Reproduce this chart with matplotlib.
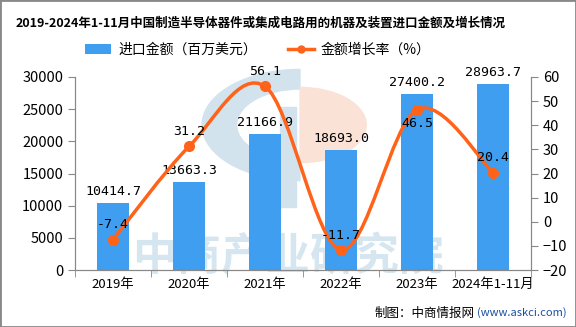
import numpy as np
import matplotlib.pyplot as plt
from matplotlib.path import Path
from matplotlib.patches import PathPatch, Wedge, Rectangle

plt.rcParams['font.family'] = ['Noto Sans CJK SC', 'DejaVu Sans']

years = ["2019年", "2020年", "2021年", "2022年", "2023年", "2024年1-11月"]
amount = [10414.7, 13663.3, 21166.9, 18693.0, 27400.2, 28963.7]
growth = [-7.4, 31.2, 56.1, -11.7, 46.5, 20.4]

barColor = "#3F9EF0"
lineColor = "#FF6319"

fig = plt.figure(figsize=(5.76, 3.27), dpi=100)
ax = fig.add_axes([75/576, 1-270/327, 456/576, 193/327])
ax2 = ax.twinx()

# watermark logo + text
fig.patches.append(Wedge((300/576, 1-125/327), 0.17, 90, 270, width=0.06, transform=fig.transFigure,
                         color="#d3e3ee", zorder=0))
fig.patches.append(Wedge((300/576, 1-125/327), 0.115, -90, 90, transform=fig.transFigure,
                         color="#fbe2d7", zorder=0))
fig.patches.append(Rectangle((280/576, 1-207/327), 16/576, 100/327, transform=fig.transFigure,
                             color="#d3e3ee", zorder=0))
fig.text(288/576, 1-257/327, "中商产业研究院", fontsize=32, fontweight="bold", color="#d6e6f0",
         ha="center", va="center", zorder=0)
ax.set_zorder(1)
ax2.set_zorder(2)
ax.patch.set_visible(False)
ax2.patch.set_visible(False)

x = np.arange(len(years))
ax.bar(x, amount, width=0.41, color=barColor, label="进口金额（百万美元）")
for i, v in enumerate(amount):
    ax.text(i, v + 800, "%.1f" % v, ha="center", va="bottom", fontsize=9.5, family="DejaVu Sans Mono")

# smooth line through the points (Catmull-Rom -> Bezier)
pts = np.column_stack([x, growth]).astype(float)
verts = [tuple(pts[0])]
codes = [Path.MOVETO]
for i in range(len(pts) - 1):
    p0 = pts[i - 1] if i > 0 else pts[i]
    p1 = pts[i]
    p2 = pts[i + 1]
    p3 = pts[i + 2] if i + 2 < len(pts) else pts[i + 1]
    c1 = p1 + (p2 - p0) / 6
    c2 = p2 - (p3 - p1) / 6
    verts += [tuple(c1), tuple(c2), tuple(p2)]
    codes += [Path.CURVE4] * 3
ax2.add_patch(PathPatch(Path(verts, codes), facecolor="none", edgecolor=lineColor, lw=2.5))
ax2.plot(x, growth, "o", color=lineColor, ms=7)
for i, v in enumerate(growth):
    if i == 4:
        ax2.text(i, v - 3, "%.1f" % v, ha="center", va="top", fontsize=9.5, family="DejaVu Sans Mono")
    else:
        ax2.text(i, v + 3.5, "%.1f" % v, ha="center", va="bottom", fontsize=9.5, family="DejaVu Sans Mono")

ax.set_xlim(-0.5, 5.5)
ax.set_ylim(0, 30000)
ax.set_yticks(range(0, 30001, 5000))
ax2.set_ylim(-20, 60)
ax2.set_yticks(range(-20, 61, 10))
ax.set_xticks(x)
ax.set_xticklabels(years, fontsize=9.5)
ax.set_xticks(np.arange(-0.5, 6, 1), minor=True)
ax.tick_params(axis="x", which="major", length=0, pad=6)
ax.tick_params(axis="x", which="minor", length=5, color="#888888")
ax.tick_params(axis="y", labelsize=10.5, length=5, color="#888888")
ax2.tick_params(axis="y", labelsize=10.5, length=5, color="#888888")

for a in (ax, ax2):
    a.spines["top"].set_visible(False)
    for s in ("left", "right", "bottom"):
        a.spines[s].set_color("#888888")

fig.text(261/576, 1-23/327, "2019-2024年1-11月中国制造半导体器件或集成电路用的机器及装置进口金额及增长情况",
         ha="center", va="center", fontsize=9, fontweight="bold")

h1, l1 = ax.get_legend_handles_labels()
line_handle = plt.Line2D([], [], color=lineColor, lw=2.5, marker="o", ms=5)
fig.legend(h1 + [line_handle], l1 + ["金额增长率（%）"], loc="center", bbox_to_anchor=(258/576, 1-50/327),
           ncol=2, frameon=False, fontsize=10, handlelength=1.9, handletextpad=0.5, columnspacing=2.2)

fig.text(567/576, 1-313/327, "(www.askci.com)", ha="right", va="center", fontsize=8, color="#1a4fa0")
fig.text(475/576, 1-313/327, "制图：中商情报网", ha="right", va="center", fontsize=9)

fig.patches.append(Rectangle((0, 0), 1, 1, transform=fig.transFigure, fill=False,
                             edgecolor="#888888", lw=2))

fig.savefig("out.png", dpi=100)
